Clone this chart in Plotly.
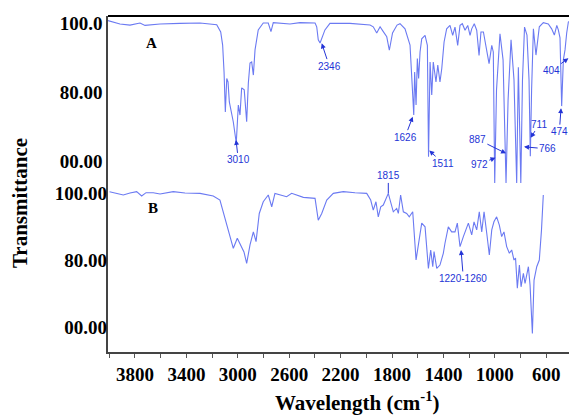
import plotly.graph_objects as go

# ---------------- data ----------------
wn_a = [4010, 3917, 3839, 3761, 3722, 3605, 3450, 3294, 3164, 3133,
        3118, 3107, 3097, 3086, 3076, 3066, 3035, 3012, 2996, 2983,
        2970, 2950, 2931, 2918, 2905, 2892, 2879, 2866, 2841, 2802,
        2763, 2742, 2724, 2594, 2516, 2399, 2386, 2374, 2360, 2347,
        2322, 2283, 2127, 1971, 1946, 1919, 1893, 1868, 1841, 1821,
        1796, 1761, 1738, 1699, 1660, 1639, 1631, 1624, 1613, 1603,
        1593, 1582, 1569, 1543, 1525, 1516, 1504, 1491, 1479, 1458,
        1444, 1427, 1413, 1395, 1375, 1349, 1328, 1310, 1289, 1271,
        1253, 1232, 1211, 1193, 1180, 1160, 1141, 1123, 1108, 1089,
        1063, 1045, 1024, 1012, 1001, 987, 960, 936, 913, 897,
        874, 851, 830, 817, 798, 785, 769, 750, 734, 724,
        714, 700, 680, 654, 623, 584, 558, 537, 518, 506,
        493, 480, 467, 454, 441, 428, 415]
t_a = [100.7, 99.7, 99.4, 100.0, 99.3, 99.7, 99.9, 100.0, 99.5, 97.4,
       93.6, 85.8, 74.2, 83.9, 82.9, 77.1, 71.3, 65.2, 76.2, 73.3,
       81.2, 80.6, 71.4, 82.6, 88.4, 88.7, 84.9, 92.2, 98.0, 100.0,
       100.0, 97.5, 100.1, 99.7, 100.1, 100.0, 98.9, 95.1, 94.2, 95.7,
       98.0, 99.9, 99.9, 99.4, 98.9, 97.1, 98.9, 97.5, 96.0, 92.1,
       97.1, 99.4, 99.8, 98.3, 93.6, 79.1, 73.3, 85.8, 76.2, 89.7,
       83.9, 91.6, 95.4, 96.4, 93.5, 61.2, 88.7, 79.1, 88.7, 82.9,
       87.8, 82.9, 86.8, 94.5, 98.3, 99.3, 96.4, 98.8, 93.5, 99.3,
       99.8, 97.9, 99.3, 96.4, 98.3, 99.8, 97.9, 90.6, 97.4, 97.4,
       91.6, 88.2, 93.5, 91.6, 53.6, 80.6, 96.9, 89.3, 53.6, 77.7,
       95.1, 83.5, 53.6, 87.2, 53.6, 83.5, 98.8, 96.5, 83.5, 61.4,
       80.6, 98.3, 90.7, 98.9, 100.1, 99.7, 98.3, 96.5, 99.3, 98.0,
       95.7, 75.9, 89.3, 92.2, 97.1, 100.3, 100.6]

wn_b = [3998, 3891, 3839, 3787, 3748, 3714, 3658, 3605, 3502, 3411,
        3294, 3191, 3139, 3100, 3074, 3035, 3004, 2970, 2952, 2931,
        2905, 2879, 2858, 2833, 2802, 2763, 2736, 2711, 2620, 2581,
        2490, 2399, 2374, 2347, 2308, 2257, 2179, 2088, 1997, 1966,
        1946, 1925, 1907, 1888, 1868, 1829, 1790, 1764, 1751, 1733,
        1712, 1686, 1666, 1639, 1613, 1595, 1569, 1543, 1517, 1499,
        1483, 1473, 1452, 1427, 1401, 1388, 1362, 1336, 1310, 1292,
        1271, 1245, 1206, 1180, 1162, 1141, 1121, 1102, 1084, 1063,
        1043, 1024, 1007, 986, 965, 947, 929, 908, 887, 869,
        851, 839, 825, 809, 796, 778, 765, 739, 726, 708,
        695, 674, 654, 637, 623]
t_b = [100.4, 99.4, 100.0, 100.4, 99.1, 100.1, 100.1, 99.7, 100.4, 100.0,
       99.9, 99.1, 97.9, 92.4, 89.0, 83.5, 86.5, 84.0, 82.4, 79.0,
       84.5, 88.4, 85.5, 93.9, 97.4, 99.4, 95.9, 99.9, 98.9, 99.9,
       98.7, 98.4, 91.9, 93.9, 97.9, 99.9, 100.4, 100.1, 99.9, 97.9,
       94.9, 97.4, 92.9, 95.9, 96.4, 99.9, 94.4, 95.4, 93.9, 99.4,
       94.4, 93.9, 92.9, 94.4, 80.0, 84.5, 91.0, 89.9, 77.5, 83.0,
       78.0, 82.5, 77.5, 78.5, 82.0, 85.0, 89.9, 88.4, 88.4, 91.0,
       84.0, 87.0, 91.0, 87.5, 91.4, 89.0, 94.4, 88.4, 94.4, 88.0,
       81.5, 89.0, 91.4, 92.9, 90.4, 87.0, 88.4, 84.0, 82.0, 83.0,
       80.0, 80.6, 71.6, 78.5, 72.0, 76.0, 73.0, 78.0, 72.5, 58.1,
       74.0, 78.0, 80.0, 89.0, 99.4]

x_tick_vals = [3800, 3400, 3000, 2600, 2200, 1800, 1400, 1000, 600]
x_tick_text = ["3800", "3400", "3000", "2600", "2200", "1800", "1400", "1000", "600"]
ya_tick_vals = [100, 80, 60]
ya_tick_text = ["100.0", "80.00", "00.00"]
yb_tick_vals = [100, 80, 60]
yb_tick_text = ["100.00", "80.00", "00.00"]

# peak labels: arrow tip (wn, T) and label position (wn, T)
pk_a_text = ["3010", "2346", "1626", "1511", "887", "972", "766", "711", "474", "404"]
pk_a_tip_x = [3014, 2347, 1639, 1510, 913, 995, 773, 721, 485, 428]
pk_a_tip_y = [66.1, 94.1, 72.8, 63.0, 62.2, 60.9, 64.1, 66.7, 75.3, 89.8]
pk_a_lab_x = [2996, 2288, 1699, 1401, 1136, 1121, 589, 654, 498, 557]
pk_a_lab_y = [60.3, 87.5, 66.9, 59.3, 66.3, 59.1, 63.5, 70.7, 68.5, 86.2]

pk_b_text = ["1815", "1220-1260"]
pk_b_tip_x = [1829, 1263]
pk_b_tip_y = [99.9, 83.0]
pk_b_lab_x = [1829, 1245]
pk_b_lab_y = [105.1, 74.5]
pk_b_head = [0, 2]

# ---------------- figure ----------------
LINE = "#6b7af2"
LABC = "#2434d6"
SERIF = "Liberation Serif, Times New Roman, serif"
NARROW = "Liberation Sans Narrow, Arial Narrow, Liberation Sans, Arial, sans-serif"

fig = go.Figure()
fig.add_trace(go.Scatter(x=wn_a, y=t_a, mode="lines", yaxis="y",
                         line=dict(color=LINE, width=1.1), hoverinfo="skip"))
fig.add_trace(go.Scatter(x=wn_b, y=t_b, mode="lines", yaxis="y2",
                         line=dict(color=LINE, width=1.1), hoverinfo="skip"))

ann = []
for txt, tx, ty, lx, ly in zip(pk_a_text, pk_a_tip_x, pk_a_tip_y, pk_a_lab_x, pk_a_lab_y):
    ann.append(dict(x=tx, y=ty, xref="x", yref="y", ax=lx, ay=ly, axref="x", ayref="y",
                    text=txt, showarrow=True, arrowhead=2, arrowsize=1, arrowwidth=1,
                    arrowcolor=LABC, standoff=0,
                    font=dict(family=NARROW, size=10, color=LABC)))
for txt, tx, ty, lx, ly, hd in zip(pk_b_text, pk_b_tip_x, pk_b_tip_y, pk_b_lab_x, pk_b_lab_y, pk_b_head):
    ann.append(dict(x=tx, y=ty, xref="x", yref="y2", ax=lx, ay=ly, axref="x", ayref="y2",
                    text=txt, showarrow=True, arrowhead=hd, arrowsize=1, arrowwidth=1,
                    arrowcolor=LABC, standoff=0,
                    font=dict(family=NARROW, size=10, color=LABC)))

ann.append(dict(x=3670, y=94.1, xref="x", yref="y", text="A", showarrow=False,
                font=dict(family=SERIF, size=15, color="black", weight="bold")))
ann.append(dict(x=3662, y=95.4, xref="x", yref="y2", text="B", showarrow=False,
                font=dict(family=SERIF, size=15, color="black", weight="bold")))
ann.append(dict(x=-0.191, y=0.443, xref="paper", yref="paper", text="Transmittance",
                textangle=-90, showarrow=False, xanchor="center", yanchor="middle",
                font=dict(family=SERIF, size=21, color="black", weight="bold")))
ann.append(dict(x=0.540, y=-0.146, xref="paper", yref="paper",
                text="Wavelength (cm<sup>-1</sup>)", showarrow=False,
                xanchor="center", yanchor="middle",
                font=dict(family=SERIF, size=21, color="black", weight="bold")))

tickfont = dict(family=SERIF, size=19, color="black", weight="bold")

fig.update_layout(
    width=569, height=417,
    margin=dict(l=108, r=0, t=16, b=65, autoexpand=False),
    paper_bgcolor="white", plot_bgcolor="white",
    showlegend=False,
    xaxis=dict(range=[4010, 423], tickvals=x_tick_vals, ticktext=x_tick_text,
               ticks="outside", ticklen=4, tickwidth=1, tickcolor="#555",
               minor=dict(ticks="outside", ticklen=4, dtick=200, tick0=600, tickcolor="#555"),
               showline=True, linecolor="#444", linewidth=1.5, automargin=False,
               showgrid=False, zeroline=False, tickfont=tickfont, ticklabelstandoff=0),
    yaxis=dict(range=[4.6, 102.03], tickvals=ya_tick_vals, ticktext=ya_tick_text,
               ticks="", showline=True, linecolor="#444", linewidth=1.5, automargin=False,
               showgrid=False, zeroline=False, tickfont=tickfont),
    yaxis2=dict(range=[52.54, 152.84], tickvals=yb_tick_vals, ticktext=yb_tick_text,
                overlaying="y", side="left", ticks="", showline=False, automargin=False,
                showgrid=False, zeroline=False, tickfont=tickfont),
    annotations=ann,
    shapes=[dict(type="line", xref="paper", yref="paper", x0=0, x1=1, y0=1, y1=1,
                 line=dict(color="black", width=2.2))],
)

fig.write_html("out.html", config={"displayModeBar": False},
               post_script="document.body.style.margin='0';document.body.style.padding='0';")
